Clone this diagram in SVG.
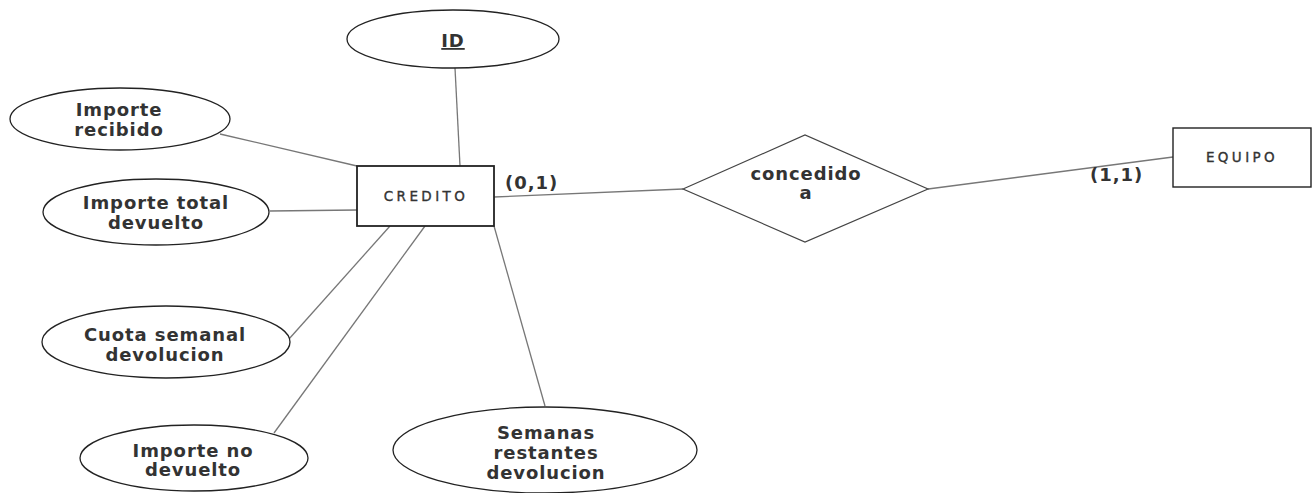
<svg xmlns="http://www.w3.org/2000/svg" width="1314" height="493" viewBox="0 0 1314 493">
  <style>
    .attr { fill: #fff; stroke: #222; stroke-width: 1.3; }
    .ent { fill: #fff; stroke: #222; stroke-width: 1.8; }
    .rel { fill: #fff; stroke: #444; stroke-width: 1.2; }
    .link { stroke: #777; stroke-width: 1.3; fill: none; }
    .lbl { font-family: "DejaVu Sans", Verdana, sans-serif; font-weight: bold; font-size: 18px; fill: #333; letter-spacing: 0.9px; text-anchor: middle; }
    .ename { font-family: "DejaVu Sans", Verdana, sans-serif; font-size: 13.5px; fill: #333; stroke: #333; stroke-width: 0.35; letter-spacing: 3.4px; text-anchor: middle; }
    .card { font-family: "DejaVu Sans", Verdana, sans-serif; font-weight: bold; font-size: 18px; fill: #333; letter-spacing: 1px; }
  </style>
  <rect width="1314" height="493" fill="#fff"/>

  <g id="connectors">
    <line class="link" x1="455" y1="68" x2="460" y2="166"/>
    <line class="link" x1="220" y1="134" x2="357" y2="166"/>
    <line class="link" x1="270" y1="211" x2="357" y2="210"/>
    <line class="link" x1="289" y1="339" x2="390" y2="226"/>
    <line class="link" x1="274" y1="433" x2="425" y2="226"/>
    <line class="link" x1="494" y1="226" x2="545" y2="406"/>
    <line class="link" x1="494" y1="197" x2="683" y2="189"/>
    <line class="link" x1="928" y1="189" x2="1173" y2="157"/>
    <text class="card" x="505" y="189">(0,1)</text>
    <text class="card" x="1090" y="181">(1,1)</text>
  </g>

  <g id="attr-id">
    <ellipse class="attr" cx="453" cy="39" rx="106" ry="29"/>
    <text class="lbl" x="453" y="47" text-decoration="underline">ID</text>
  </g>

  <g id="attr-importe-recibido">
    <ellipse class="attr" cx="120" cy="119" rx="110" ry="31"/>
    <text class="lbl" x="119" y="116">Importe</text>
    <text class="lbl" x="119" y="136">recibido</text>
  </g>

  <g id="attr-importe-total">
    <ellipse class="attr" cx="156" cy="212" rx="113" ry="33"/>
    <text class="lbl" x="156" y="209">Importe total</text>
    <text class="lbl" x="156" y="229">devuelto</text>
  </g>

  <g id="attr-cuota">
    <ellipse class="attr" cx="166" cy="342" rx="124" ry="36"/>
    <text class="lbl" x="165" y="341">Cuota semanal</text>
    <text class="lbl" x="165" y="361">devolucion</text>
  </g>

  <g id="attr-importe-no-devuelto">
    <ellipse class="attr" cx="194" cy="458" rx="114" ry="33"/>
    <text class="lbl" x="193" y="457">Importe no</text>
    <text class="lbl" x="193" y="476">devuelto</text>
  </g>

  <g id="attr-semanas">
    <ellipse class="attr" cx="545" cy="450" rx="152" ry="43"/>
    <text class="lbl" x="546" y="439">Semanas</text>
    <text class="lbl" x="546" y="459">restantes</text>
    <text class="lbl" x="546" y="479">devolucion</text>
  </g>

  <g id="entity-credito">
    <rect class="ent" x="357" y="166" width="137" height="60"/>
    <text class="ename" x="426" y="201">CREDITO</text>
  </g>

  <g id="rel-concedido">
    <polygon class="rel" points="683,189 805,135 928,189 805,242"/>
    <text class="lbl" x="806" y="180">concedido</text>
    <text class="lbl" x="806" y="199">a</text>
  </g>

  <g id="entity-equipo">
    <rect class="ent" x="1173" y="128" width="138" height="59" style="stroke-width:1.4"/>
    <text class="ename" x="1242" y="162">EQUIPO</text>
  </g>
</svg>
